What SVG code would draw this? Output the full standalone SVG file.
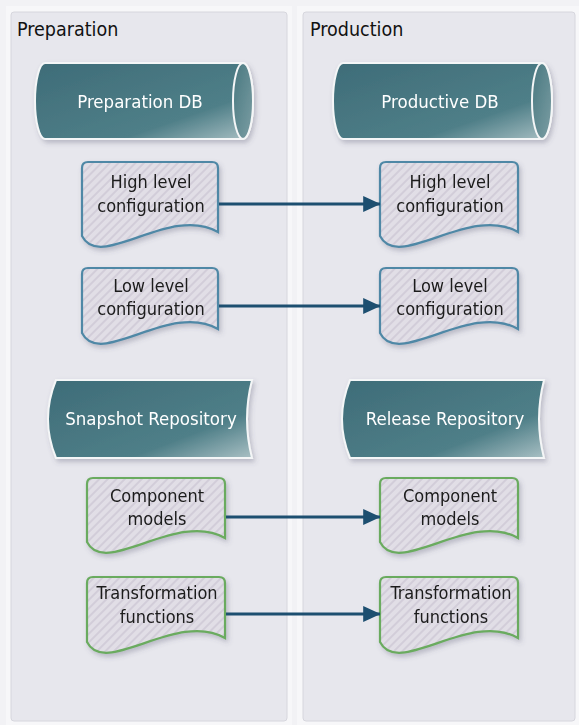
<svg xmlns="http://www.w3.org/2000/svg" width="579" height="725" viewBox="0 0 579 725">
<defs>
<style>
.lane{fill:#e7e7ed;stroke:#d6d6dd;stroke-width:1}
.laneOuter{fill:#f7f7f9;stroke:none}
.title{font-family:"DejaVu Sans Condensed","DejaVu Sans",sans-serif;font-stretch:condensed;font-size:19.5px;fill:#111}
.lbl{font-family:"DejaVu Sans Condensed","DejaVu Sans",sans-serif;font-stretch:condensed;font-size:18px;fill:#1a1a1a;text-anchor:middle}
.wlbl{font-family:"DejaVu Sans Condensed","DejaVu Sans",sans-serif;font-stretch:condensed;font-size:18.5px;fill:#ffffff;text-anchor:middle}
.docB{fill:url(#stripes);stroke:#4f88a6;stroke-width:2.2}
.docG{fill:url(#stripes);stroke:#6aab5f;stroke-width:2.2}
.db{fill:url(#teal);stroke:#f4f6f7;stroke-width:2}
.cap{fill:url(#capg);stroke:#f4f6f7;stroke-width:2}
.conn{stroke:#1d4f70;stroke-width:3;fill:none}
</style>
<pattern id="stripes" patternUnits="userSpaceOnUse" width="6" height="6" patternTransform="rotate(45)">
<rect width="6" height="6" fill="#e1dee6"/>
<rect width="2" height="6" fill="#d2cdd9"/>
</pattern>
<linearGradient id="teal" x1="0" y1="0" x2="1" y2="1">
<stop offset="0" stop-color="#3e6c78"/>
<stop offset="0.7" stop-color="#4f7f88"/>
<stop offset="1" stop-color="#a9c0c4"/>
</linearGradient>
<linearGradient id="capg" x1="0" y1="0" x2="1" y2="1">
<stop offset="0" stop-color="#47777f"/>
<stop offset="1" stop-color="#7c9ea4"/>
</linearGradient>
<filter id="sh" x="-20%" y="-20%" width="140%" height="150%">
<feDropShadow dx="2" dy="3" stdDeviation="2.5" flood-color="#50506a" flood-opacity="0.3"/>
</filter>
<marker id="arr" markerWidth="6" markerHeight="6" refX="5.6" refY="3" orient="auto" markerUnits="strokeWidth">
<path d="M0,0.3 L5.8,3 L0,5.7 Z" fill="#1d4f70"/>
</marker>
</defs>
<rect width="579" height="725" fill="#f2f2f5"/>
<g id="lane-preparation">
<rect class="laneOuter" x="6" y="6" width="286" height="719"/>
<rect class="lane" x="11" y="12" width="276" height="709" rx="3"/>
<text class="title" x="17" y="36">Preparation</text>
</g>
<g id="lane-production">
<rect class="laneOuter" x="297" y="6" width="282" height="719"/>
<rect class="lane" x="303" y="12" width="272" height="709" rx="3"/>
<text class="title" x="310" y="36">Production</text>
</g>
<g id="preparation-db" filter="url(#sh)">
<path class="db" d="M45,63 H243 A10,38 0 0 1 243,139 H45 A10,38 0 0 1 45,63 Z"/>
<ellipse class="cap" cx="243" cy="101" rx="10" ry="38"/>
<text class="wlbl" x="140" y="108">Preparation DB</text>
</g>
<g id="productive-db" filter="url(#sh)">
<path class="db" d="M343,63 H542 A10,38 0 0 1 542,139 H343 A10,38 0 0 1 343,63 Z"/>
<ellipse class="cap" cx="542" cy="101" rx="10" ry="38"/>
<text class="wlbl" x="440" y="108">Productive DB</text>
</g>
<g id="prep-high-level" filter="url(#sh)">
<path class="docB" d="M88,162 H212 Q218,162 218,168 V232 C170,204 100,272 82,236 V168 Q82,162 88,162 Z"/>
<text class="lbl" x="151" y="188">High level</text>
<text class="lbl" x="151" y="212">configuration</text>
</g>
<g id="prod-high-level" filter="url(#sh)">
<path class="docB" d="M386,162 H512 Q518,162 518,168 V232 C470,204 398,272 380,236 V168 Q380,162 386,162 Z"/>
<text class="lbl" x="450" y="188">High level</text>
<text class="lbl" x="450" y="212">configuration</text>
</g>
<g id="prep-low-level" filter="url(#sh)">
<path class="docB" d="M88,268 H212 Q218,268 218,274 V329 C170,301 100,369 82,333 V274 Q82,268 88,268 Z"/>
<text class="lbl" x="151" y="292">Low level</text>
<text class="lbl" x="151" y="315">configuration</text>
</g>
<g id="prod-low-level" filter="url(#sh)">
<path class="docB" d="M386,268 H512 Q518,268 518,274 V329 C470,301 398,369 380,333 V274 Q380,268 386,268 Z"/>
<text class="lbl" x="450" y="292">Low level</text>
<text class="lbl" x="450" y="315">configuration</text>
</g>
<g id="snapshot-repository" filter="url(#sh)">
<path class="db" d="M56,380 H252 Q242,419 252,458 H56 Q40,419 56,380 Z"/>
<text class="wlbl" x="151" y="425">Snapshot Repository</text>
</g>
<g id="release-repository" filter="url(#sh)">
<path class="db" d="M350,380 H544 Q534,419 544,458 H350 Q334,419 350,380 Z"/>
<text class="wlbl" x="445" y="425">Release Repository</text>
</g>
<g id="prep-component-models" filter="url(#sh)">
<path class="docG" d="M93,478 H219 Q225,478 225,484 V538 C177,510 105,578 87,542 V484 Q87,478 93,478 Z"/>
<text class="lbl" x="157" y="502">Component</text>
<text class="lbl" x="157" y="525">models</text>
</g>
<g id="prod-component-models" filter="url(#sh)">
<path class="docG" d="M386,478 H512 Q518,478 518,484 V538 C470,510 398,578 380,542 V484 Q380,478 386,478 Z"/>
<text class="lbl" x="450" y="502">Component</text>
<text class="lbl" x="450" y="525">models</text>
</g>
<g id="prep-transformation-functions" filter="url(#sh)">
<path class="docG" d="M93,577 H219 Q225,577 225,583 V638 C177,610 105,678 87,642 V583 Q87,577 93,577 Z"/>
<text class="lbl" x="157" y="599">Transformation</text>
<text class="lbl" x="157" y="623">functions</text>
</g>
<g id="prod-transformation-functions" filter="url(#sh)">
<path class="docG" d="M386,577 H512 Q518,577 518,583 V638 C470,610 398,678 380,642 V583 Q380,577 386,577 Z"/>
<text class="lbl" x="451" y="599">Transformation</text>
<text class="lbl" x="451" y="623">functions</text>
</g>
<g id="connectors">
<line class="conn" x1="219" y1="204" x2="380" y2="204" marker-end="url(#arr)"/>
<line class="conn" x1="219" y1="306" x2="380" y2="306" marker-end="url(#arr)"/>
<line class="conn" x1="226" y1="517" x2="380" y2="517" marker-end="url(#arr)"/>
<line class="conn" x1="226" y1="614" x2="380" y2="614" marker-end="url(#arr)"/>
</g>
</svg>
